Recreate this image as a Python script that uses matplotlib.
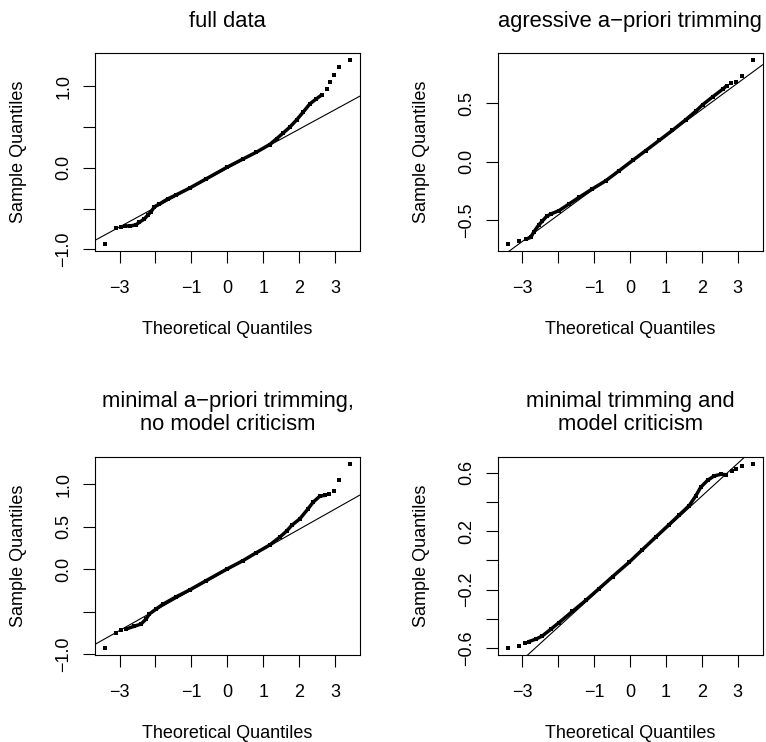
import matplotlib
matplotlib.use("Agg")
import matplotlib.pyplot as plt

plt.rcParams["font.family"] = ["Liberation Sans", "DejaVu Sans"]

# -------------------------------
# Values
# band = dense part of the point cloud, tail = isolated points
# -------------------------------

# full data
full_band_x = [-2.85, -2.70, -2.55, -2.45, -2.31, -2.21, -2.12, -2.03, -1.89, -1.66, -1.42, -1.05,
               -0.59, 0.00, 0.44, 0.81, 1.18, 1.37, 1.55, 1.74, 1.93, 2.11, 2.30, 2.48, 2.64]
full_band_y = [-0.715, -0.712, -0.700, -0.668, -0.627, -0.578, -0.537, -0.478, -0.443, -0.381, -0.330, -0.248,
               -0.135, 0.010, 0.110, 0.193, 0.287, 0.357, 0.426, 0.500, 0.590, 0.684, 0.787, 0.848, 0.900]
full_tail_x = [-3.41, -3.10, -2.96, 2.78, 2.87, 2.96, 3.12, 3.42]
full_tail_y = [-0.930, -0.742, -0.720, 0.963, 1.053, 1.135, 1.234, 1.320]
full_line = (-0.005, 0.240)  # intercept, slope

# agressive a-priori trimming
aggr_band_x = [-2.91, -2.77, -2.68, -2.55, -2.45, -2.33, -2.21, -1.98, -1.70, -1.42, -1.05, -0.68,
               -0.31, 0.07, 0.44, 0.81, 1.18, 1.55, 1.83, 2.02, 2.30, 2.58, 2.70]
aggr_band_y = [-0.666, -0.649, -0.600, -0.545, -0.511, -0.470, -0.449, -0.420, -0.363, -0.306, -0.234, -0.165,
               -0.080, 0.009, 0.094, 0.180, 0.266, 0.357, 0.430, 0.485, 0.553, 0.618, 0.650]
aggr_tail_x = [-3.41, -3.10, 2.81, 2.95, 3.12, 3.42]
aggr_tail_y = [-0.703, -0.683, 0.671, 0.680, 0.729, 0.866]
aggr_line = (-0.006, 0.2256)

# minimal a-priori trimming, no model criticism
mini_band_x = [-2.82, -2.59, -2.40, -2.26, -2.17, -1.98, -1.80, -1.42, -1.05, -0.59, 0.00, 0.44,
               0.81, 1.18, 1.46, 1.65, 1.79, 2.02, 2.25, 2.39, 2.58, 2.72]
mini_band_y = [-0.705, -0.673, -0.646, -0.587, -0.528, -0.469, -0.415, -0.325, -0.245, -0.135, 0.004, 0.102,
               0.195, 0.285, 0.378, 0.449, 0.516, 0.594, 0.713, 0.791, 0.862, 0.870]
mini_tail_x = [-3.41, -3.10, -2.96, 2.84, 2.96, 3.12, 3.42]
mini_tail_y = [-0.925, -0.748, -0.713, 0.890, 0.917, 1.047, 1.236]
mini_line = (-0.007, 0.2387)

# minimal trimming and model criticism
crit_band_x = [-2.82, -2.63, -2.45, -2.21, -1.98, -1.61, -1.24, -0.87, -0.49, -0.03, 0.34, 0.72,
               1.09, 1.37, 1.65, 1.83, 1.97, 2.16, 2.34, 2.53, 2.67]
crit_band_y = [-0.556, -0.540, -0.518, -0.472, -0.426, -0.350, -0.275, -0.195, -0.112, -0.014, 0.072, 0.160,
               0.245, 0.310, 0.375, 0.440, 0.500, 0.547, 0.577, 0.589, 0.586]
crit_tail_x = [-3.41, -3.10, -2.94, 2.84, 2.96, 3.12, 3.42]
crit_tail_y = [-0.598, -0.584, -0.563, 0.609, 0.627, 0.646, 0.657]
crit_line = (-0.0086, 0.2239)

x_ticks = [-3, -2, -1, 0, 1, 2, 3]
x_labels = ["\u22123", "", "\u22121", "0", "1", "2", "3"]

panels = [
    {"title": ["full data"], "bx": full_band_x, "by": full_band_y, "tx": full_tail_x, "ty": full_tail_y,
     "line": full_line, "yt": [-1.0, -0.5, 0.0, 0.5, 1.0], "yl": ["\u22121.0", "", "0.0", "", "1.0"]},
    {"title": ["agressive a\u2212priori trimming"], "bx": aggr_band_x, "by": aggr_band_y, "tx": aggr_tail_x,
     "ty": aggr_tail_y, "line": aggr_line, "yt": [-0.5, 0.0, 0.5], "yl": ["\u22120.5", "0.0", "0.5"]},
    {"title": ["minimal a\u2212priori trimming,", "no model criticism"], "bx": mini_band_x, "by": mini_band_y,
     "tx": mini_tail_x, "ty": mini_tail_y, "line": mini_line, "yt": [-1.0, -0.5, 0.0, 0.5, 1.0],
     "yl": ["\u22121.0", "", "0.0", "0.5", "1.0"]},
    {"title": ["minimal trimming and", "model criticism"], "bx": crit_band_x, "by": crit_band_y,
     "tx": crit_tail_x, "ty": crit_tail_y, "line": crit_line, "yt": [-0.6, -0.4, -0.2, 0.0, 0.2, 0.4, 0.6],
     "yl": ["\u22120.6", "", "\u22120.2", "", "0.2", "", "0.6"]},
]

positions = [
    [95 / 766, 1 - 251 / 742, 265 / 766, 198 / 742],
    [498 / 766, 1 - 251 / 742, 264.5 / 766, 198 / 742],
    [95 / 766, 1 - 655 / 742, 265 / 766, 198 / 742],
    [498 / 766, 1 - 655 / 742, 264.5 / 766, 198 / 742],
]

fig = plt.figure(figsize=(7.66, 7.42), dpi=100)
px = 0.72  # points per pixel

for p, pos in zip(panels, positions):
    ax = fig.add_axes(pos)

    # point cloud
    ax.plot(p["bx"], p["by"], color="black", lw=2.5, solid_capstyle="butt",
            marker="s", ms=2.4, mew=0)
    ax.plot(p["tx"], p["ty"], ls="none", color="black", marker="s", ms=2.6, mew=0)
    ax.margins(x=0.04, y=0.04)

    # qq line
    ax.axline((0, p["line"][0]), slope=p["line"][1], color="black", lw=0.8)

    ax.set_xticks(x_ticks)
    ax.set_xticklabels(x_labels)
    ax.set_yticks(p["yt"])
    ax.set_yticklabels(p["yl"], rotation=90, va="center")
    ax.tick_params(axis="x", length=12 * px, width=0.8, pad=12.0, labelsize=13)
    ax.tick_params(axis="y", length=12 * px, width=0.8, pad=7.8, labelsize=13)
    for s in ax.spines.values():
        s.set_linewidth(0.8)

    ax.annotate("Theoretical Quantiles", xy=(0.5, 0), xycoords="axes fraction",
                xytext=(0, -82.5 * px), textcoords="offset points",
                ha="center", va="baseline", fontsize=13)
    ax.annotate("Sample Quantiles", xy=(0, 0.5), xycoords="axes fraction",
                xytext=(-72 * px, 0), textcoords="offset points",
                ha="center", va="baseline", rotation=90, rotation_mode="anchor", fontsize=13)

    # title lines, bottom line first
    for i, line in enumerate(reversed(p["title"])):
        ax.annotate(line, xy=(0.5, 1), xycoords="axes fraction",
                    xytext=(0, (26.5 + 24 * i) * px), textcoords="offset points",
                    ha="center", va="baseline", fontsize=15.8)

fig.savefig("out.png", dpi=100)
